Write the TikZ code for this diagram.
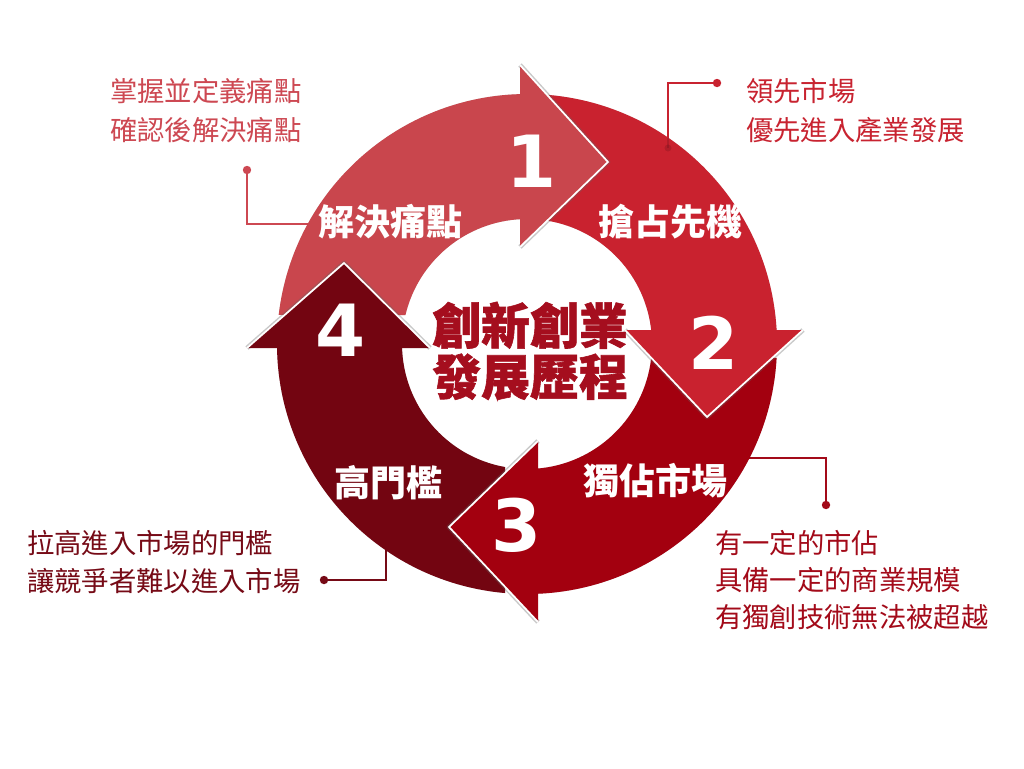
\documentclass[tikz,border=0pt]{standalone}
\usepackage{fontspec}
\usetikzlibrary{calc}
\newfontfamily\cjk{Noto Sans CJK TC}
\newfontfamily\cjkheavy{Noto Sans CJK TC}[BoldFeatures={FakeBold=1.2}]
\newfontfamily\digitfont{DejaVu Sans}
\definecolor{cOne}{RGB}{201,70,77}
\definecolor{cTwo}{RGB}{201,34,47}
\definecolor{cThree}{RGB}{163,0,15}
\definecolor{cFour}{RGB}{115,5,17}
\definecolor{cTitle}{RGB}{165,14,30}
\definecolor{tTL}{RGB}{205,72,82}
\definecolor{tTR}{RGB}{200,35,48}
\definecolor{tBR}{RGB}{163,10,25}
\definecolor{tBL}{RGB}{118,10,22}
\tikzset{
  bandshadow/.style={fill=black, opacity=0.16},
  headshadow/.style={draw=black!60, line width=3.5pt, opacity=0.35, line join=round},
  headedge/.style={draw=white, line width=1.3pt},
  numtext/.style={text=white, font=\digitfont\bfseries\fontsize{54}{54}\selectfont, inner sep=0},
  lbltext/.style={text=white, font=\cjk\bfseries\fontsize{27}{27}\selectfont, inner sep=0},
  sidetext/.style={align=left, inner sep=0, anchor=west},
  conn/.style={line width=1.5pt},
  dotmark/.style={radius=4.2},
}
\newcommand\bandOne{($(C)+(186.7:250)$) arc[start angle=186.7,end angle=269.4,radius=250] -- ($(C)+(267.8:125)$) arc[start angle=267.8,end angle=193.4,radius=125] -- cycle}
\newcommand\bandTwo{($(C)+(-85.4:250)$) arc[start angle=-85.4,end angle=-2.2,radius=250] -- ($(C)+(-5.4:125)$) arc[start angle=-5.4,end angle=-80.8,radius=125] -- cycle}
\newcommand\bandThree{($(C)+(3.2:250)$) arc[start angle=3.2,end angle=88.5,radius=250] -- ($(C)+(85.95:125)$) arc[start angle=85.95,end angle=6.43,radius=125] -- cycle}
\newcommand\bandFour{($(C)+(95.05:250)$) arc[start angle=95.05,end angle=180.1,radius=250] -- ($(C)+(179.2:125)$) arc[start angle=179.2,end angle=100.1,radius=125] -- cycle}
\begin{document}
\begin{tikzpicture}[x=0.75pt,y=-0.75pt]
\useasboundingbox (0,0) rectangle (1024,768);
\fill[white] (0,0) rectangle (1024,768);
\coordinate (C) at (527,344);
% connector coordinates
\coordinate (tlDot) at (247,170);
\coordinate (tlBend) at (247,224);
\coordinate (tlEnd) at (325,224);
\coordinate (trDot) at (717,83);
\coordinate (trBend) at (668,83);
\coordinate (trEnd) at (668,148);
\coordinate (brStart) at (740,458);
\coordinate (brBend) at (826,458);
\coordinate (brDot) at (826,505);
\coordinate (blDot) at (324,580);
\coordinate (blBend) at (386,580);
\coordinate (blEnd) at (386,535);
% connectors (behind the arrows)
\draw[conn, tTL] (tlDot) -- (tlBend) -- (tlEnd);
\fill[tTL] (tlDot) circle[dotmark];
\draw[conn, tTR] (trDot) -- (trBend) -- (trEnd);
\fill[tTR] (trDot) circle[dotmark];
\draw[conn, tBR] (brStart) -- (brBend) -- (brDot);
\fill[tBR] (brDot) circle[dotmark];
\draw[conn, tBL] (blDot) -- (blBend) -- (blEnd);
\fill[tBL] (blDot) circle[dotmark];
% band shadows
\begin{scope}[shift={(2.5,2.5)}]
\fill[bandshadow] \bandOne;
\fill[bandshadow] \bandTwo;
\fill[bandshadow] \bandThree;
\fill[bandshadow] \bandFour;
\end{scope}
% bands
\fill[cOne] \bandOne;
\fill[cTwo] \bandTwo;
\fill[cThree] \bandThree;
\fill[cFour] \bandFour;
% faint connector end seen through arrow 2
\draw[conn, black, opacity=0.12] (668,138) -- (trEnd);
\fill[black, opacity=0.12] (trEnd) circle[radius=3.5];
% heads
\coordinate (h1a) at (520,65); \coordinate (h1t) at (608,162); \coordinate (h1b) at (520,247);
\coordinate (h2a) at (803,330); \coordinate (h2t) at (707,417); \coordinate (h2b) at (625,330);
\coordinate (h3a) at (538,622); \coordinate (h3t) at (449,527); \coordinate (h3b) at (538,441);
\coordinate (h4a) at (247,348); \coordinate (h4t) at (344,263); \coordinate (h4b) at (430,348);
\foreach \h/\col in {1/cOne,2/cTwo,3/cThree,4/cFour}{
  \draw[headshadow, shift={(1.5,1.5)}] (h\h a) -- (h\h t) -- (h\h b);
  \fill[\col] (h\h a) -- (h\h t) -- (h\h b) -- cycle;
  \draw[headedge] (h\h a) -- (h\h t) -- (h\h b);
}
% numbers
\node[numtext] (n1) at (532,161) {1};
\node[numtext] (n2) at (714,343) {2};
\node[numtext] (n3) at (517,525) {3};
\node[numtext] (n4) at (341,330) {4};
% labels on arrows
\node[lbltext] (l1) at (390,222) {解決痛點};
\node[lbltext] (l2) at (670,222) {搶占先機};
\node[lbltext] (l3) at (655,481) {獨佔市場};
\node[lbltext] (l4) at (388,483) {高門檻};
% title
\node[text=cTitle, font=\cjkheavy\bfseries\fontsize{36.7}{38.25}\selectfont, align=center, inner sep=0] (title) at (530,351) {創新創業\\發展歷程};
% side texts
\node[sidetext, text=tTL, font=\cjk\fontsize{20.5}{29.25}\selectfont] (tTLtext) at (110,110.5) {掌握並定義痛點\\確認後解決痛點};
\node[sidetext, text=tTR, font=\cjk\fontsize{20.5}{29.25}\selectfont] (tTRtext) at (746,110.5) {領先市場\\優先進入產業發展};
\node[sidetext, text=tBR, font=\cjk\fontsize{20.5}{27.75}\selectfont] (tBRtext) at (715,580) {有一定的市佔\\具備一定的商業規模\\有獨創技術無法被超越};
\node[sidetext, text=tBL, font=\cjk\fontsize{20.5}{28.5}\selectfont] (tBLtext) at (27,562) {拉高進入市場的門檻\\讓競爭者難以進入市場};
\end{tikzpicture}
\end{document}
